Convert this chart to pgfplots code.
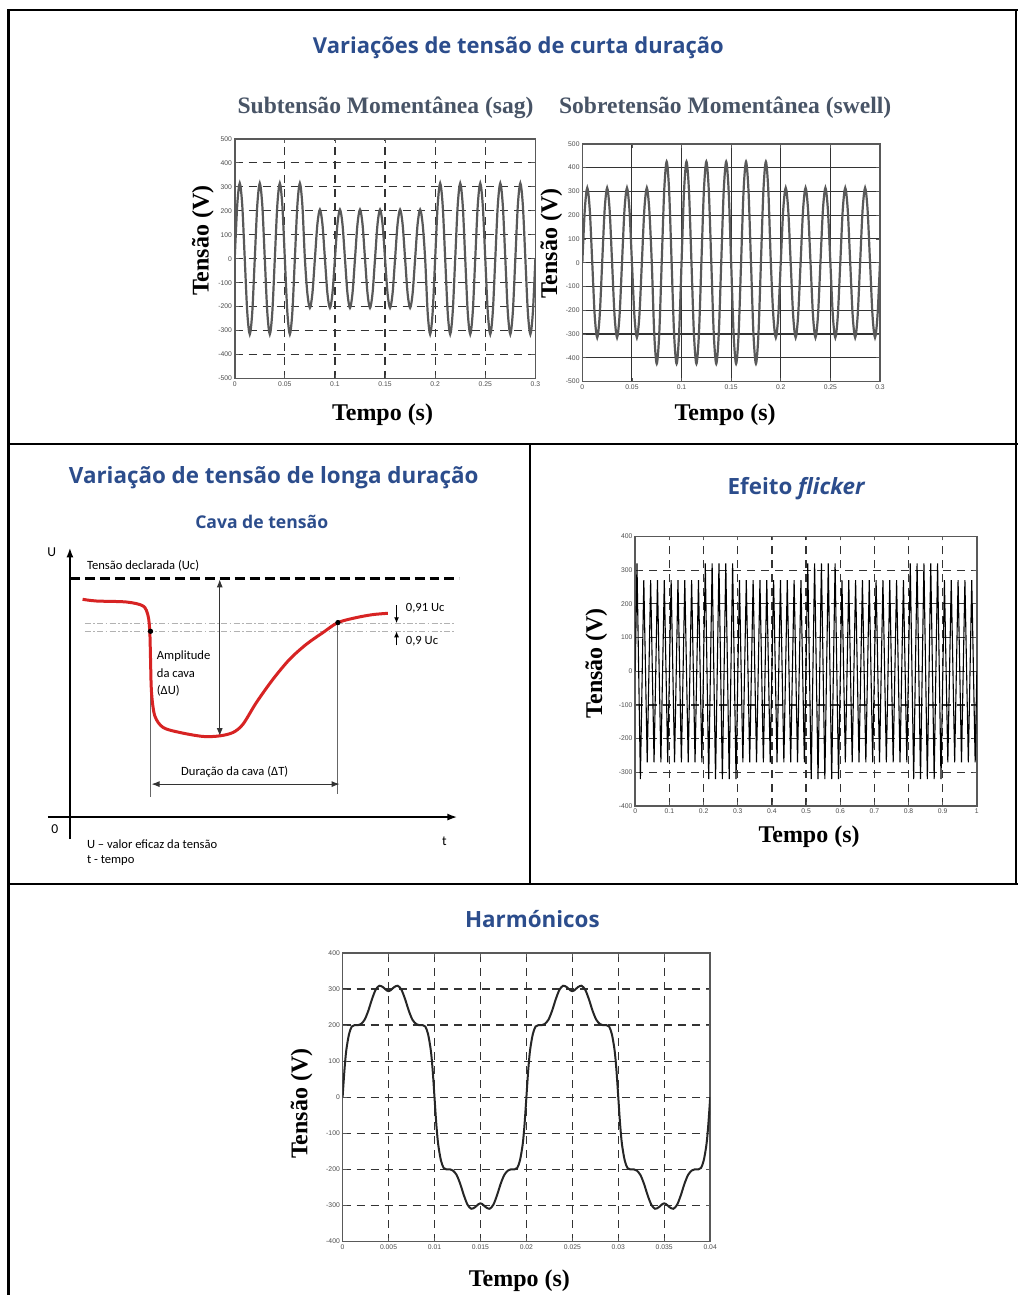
\documentclass[border=0pt]{standalone}
\usepackage{pgfplots}
\pgfplotsset{compat=1.18}
\usepackage{fontspec}
\setmainfont{Liberation Serif}
\setsansfont{Liberation Sans}
\newfontfamily\osans{Open Sans}
\newfontfamily\calib{Carlito}
\usetikzlibrary{arrows.meta}
\definecolor{tblue}{RGB}{44,77,140}
\definecolor{tslate}{RGB}{72,84,102}
\definecolor{cred}{RGB}{215,35,35}

\pgfplotsset{
  wave/.style={
    scale only axis, clip=true,
    axis line style={line width=0.8pt, draw=black!65},
    tick style={black!65, line width=0.4pt}, major tick length=2pt,
    tick label style={font=\sffamily\fontsize{3.4}{4}\selectfont, text=black!70, inner sep=1.2pt},
    xmajorgrids, ymajorgrids,
    scaled x ticks=false, scaled y ticks=false,
    /pgf/number format/assume math mode=true,
    xticklabel style={/pgf/number format/fixed, /pgf/number format/precision=3},
    yticklabel style={/pgf/number format/fixed},
  },
  dgrid/.style={major grid style={black!80, line width=0.6pt, dash pattern=on 4pt off 3pt}},
  sgrid/.style={major grid style={black!80, line width=0.55pt}},
}

\begin{document}
\begin{tikzpicture}
\begin{scope}[x=0.5pt,y=-0.5pt]
\useasboundingbox (0,0) rectangle (1019,1296);
\fill[white] (0,0) rectangle (1019,1296);
\coordinate (sag) at (235,379);
\coordinate (swl) at (583,382);
\coordinate (flk) at (636,807);
\coordinate (har) at (343,1243);
\coordinate (cav) at (40,880);
% titles
\node[font=\osans\bfseries\fontsize{11}{12}\selectfont, text=tblue] at (519,48) {Variações de tensão de curta duração};
\node[font=\rmfamily\bfseries\fontsize{11.8}{13}\selectfont, text=tslate] at (386,108) {Subtensão Momentânea (sag)};
\node[font=\rmfamily\bfseries\fontsize{11.8}{13}\selectfont, text=tslate] at (726,108) {Sobretensão Momentânea (swell)};
\node[font=\rmfamily\bfseries\fontsize{12}{13}\selectfont, rotate=90] at (203,241) {Tensão (V)};
\node[font=\rmfamily\bfseries\fontsize{12}{13}\selectfont, rotate=90] at (552,244) {Tensão (V)};
\node[font=\rmfamily\bfseries\fontsize{12}{13}\selectfont] at (383,415) {Tempo (s)};
\node[font=\rmfamily\bfseries\fontsize{12}{13}\selectfont] at (726,415) {Tempo (s)};
\node[font=\osans\bfseries\fontsize{11.2}{12}\selectfont, text=tblue] at (274,478) {Variação de tensão de longa duração};
\node[font=\osans\bfseries\fontsize{8.8}{10}\selectfont, text=tblue] at (262,523) {Cava de tensão};
\node[font=\osans\bfseries\fontsize{11.2}{12}\selectfont, text=tblue] at (797,489) {Efeito \itshape flicker};
\node[font=\rmfamily\bfseries\fontsize{12}{13}\selectfont, rotate=90] at (597,664) {Tensão (V)};
\node[font=\rmfamily\bfseries\fontsize{12}{13}\selectfont] at (810,838) {Tempo (s)};
\node[font=\osans\bfseries\fontsize{11.2}{12}\selectfont, text=tblue] at (533,920) {Harmónicos};
\node[font=\rmfamily\bfseries\fontsize{12}{13}\selectfont, rotate=90] at (302,1105) {Tensão (V)};
\node[font=\rmfamily\bfseries\fontsize{12}{13}\selectfont] at (520,1282) {Tempo (s)};
\end{scope}

% ---- sag
\begin{axis}[wave, dgrid, at={(sag)}, anchor=south west, width=150.5pt, height=120pt,
  xmin=0, xmax=0.3, ymin=-500, ymax=500,
  xtick={0,0.05,0.1,0.15,0.2,0.25,0.3}, ytick={-500,-400,-300,-200,-100,0,100,200,300,400,500}]
\addplot[black!65, line width=1.1pt, smooth] coordinates {
(0,0)(0.0025,223)(0.005,315)(0.0075,223)(0.01,0)(0.0125,-223)(0.015,-315)(0.0175,-223)
(0.02,0)(0.0225,223)(0.025,315)(0.0275,223)(0.03,0)(0.0325,-223)(0.035,-315)(0.0375,-223)
(0.04,0)(0.0425,223)(0.045,315)(0.0475,223)(0.05,0)(0.0525,-223)(0.055,-315)(0.0575,-223)
(0.06,0)(0.0625,223)(0.065,315)(0.0675,223)(0.07,0)(0.0725,-145)(0.075,-205)(0.0775,-145)
(0.08,0)(0.0825,145)(0.085,205)(0.0875,145)(0.09,0)(0.0925,-145)(0.095,-205)(0.0975,-145)
(0.1,0)(0.1025,145)(0.105,205)(0.1075,145)(0.11,0)(0.1125,-145)(0.115,-205)(0.1175,-145)
(0.12,0)(0.1225,145)(0.125,205)(0.1275,145)(0.13,0)(0.1325,-145)(0.135,-205)(0.1375,-145)
(0.14,0)(0.1425,145)(0.145,205)(0.1475,145)(0.15,0)(0.1525,-145)(0.155,-205)(0.1575,-145)
(0.16,0)(0.1625,145)(0.165,205)(0.1675,145)(0.17,0)(0.1725,-145)(0.175,-205)(0.1775,-145)
(0.18,0)(0.1825,145)(0.185,205)(0.1875,145)(0.19,0)(0.1925,-223)(0.195,-315)(0.1975,-223)
(0.2,0)(0.2025,223)(0.205,315)(0.2075,223)(0.21,0)(0.2125,-223)(0.215,-315)(0.2175,-223)
(0.22,0)(0.2225,223)(0.225,315)(0.2275,223)(0.23,0)(0.2325,-223)(0.235,-315)(0.2375,-223)
(0.24,0)(0.2425,223)(0.245,315)(0.2475,223)(0.25,0)(0.2525,-223)(0.255,-315)(0.2575,-223)
(0.26,0)(0.2625,223)(0.265,315)(0.2675,223)(0.27,0)(0.2725,-223)(0.275,-315)(0.2775,-223)
(0.28,0)(0.2825,223)(0.285,315)(0.2875,223)(0.29,0)(0.2925,-223)(0.295,-315)(0.2975,-223)
(0.3,0)};
\end{axis}

% ---- swell
\begin{axis}[wave, sgrid, at={(swl)}, anchor=south west, width=149pt, height=119pt,
  xmin=0, xmax=0.3, ymin=-500, ymax=500,
  xtick={0,0.05,0.1,0.15,0.2,0.25,0.3}, ytick={-500,-400,-300,-200,-100,0,100,200,300,400,500}]
\addplot[black!65, line width=1.1pt, smooth] coordinates {
(0,0)(0.0025,223)(0.005,315)(0.0075,223)(0.01,0)(0.0125,-223)(0.015,-315)(0.0175,-223)
(0.02,0)(0.0225,223)(0.025,315)(0.0275,223)(0.03,0)(0.0325,-223)(0.035,-315)(0.0375,-223)
(0.04,0)(0.0425,223)(0.045,315)(0.0475,223)(0.05,0)(0.0525,-223)(0.055,-315)(0.0575,-223)
(0.06,0)(0.0625,223)(0.065,315)(0.0675,223)(0.07,0)(0.0725,-301)(0.075,-425)(0.0775,-301)
(0.08,0)(0.0825,301)(0.085,425)(0.0875,301)(0.09,0)(0.0925,-301)(0.095,-425)(0.0975,-301)
(0.1,0)(0.1025,301)(0.105,425)(0.1075,301)(0.11,0)(0.1125,-301)(0.115,-425)(0.1175,-301)
(0.12,0)(0.1225,301)(0.125,425)(0.1275,301)(0.13,0)(0.1325,-301)(0.135,-425)(0.1375,-301)
(0.14,0)(0.1425,301)(0.145,425)(0.1475,301)(0.15,0)(0.1525,-301)(0.155,-425)(0.1575,-301)
(0.16,0)(0.1625,301)(0.165,425)(0.1675,301)(0.17,0)(0.1725,-301)(0.175,-425)(0.1775,-301)
(0.18,0)(0.1825,301)(0.185,425)(0.1875,301)(0.19,0)(0.1925,-223)(0.195,-315)(0.1975,-223)
(0.2,0)(0.2025,223)(0.205,315)(0.2075,223)(0.21,0)(0.2125,-223)(0.215,-315)(0.2175,-223)
(0.22,0)(0.2225,223)(0.225,315)(0.2275,223)(0.23,0)(0.2325,-223)(0.235,-315)(0.2375,-223)
(0.24,0)(0.2425,223)(0.245,315)(0.2475,223)(0.25,0)(0.2525,-223)(0.255,-315)(0.2575,-223)
(0.26,0)(0.2625,223)(0.265,315)(0.2675,223)(0.27,0)(0.2725,-223)(0.275,-315)(0.2775,-223)
(0.28,0)(0.2825,223)(0.285,315)(0.2875,223)(0.29,0)(0.2925,-223)(0.295,-315)(0.2975,-223)
(0.3,0)};
\end{axis}

% ---- flicker
\begin{axis}[wave, dgrid, at={(flk)}, anchor=south west, width=171pt, height=135pt,
  xmin=0, xmax=1, ymin=-400, ymax=400,
  xtick={0,0.1,0.2,0.3,0.4,0.5,0.6,0.7,0.8,0.9,1}, ytick={-400,-300,-200,-100,0,100,200,300,400}]
\addplot[black, line width=0.55pt] coordinates {
(0,0)(0.005,320)(0.015,-320)(0.025,270)(0.035,-270)(0.045,270)(0.055,-270)(0.065,270)(0.075,-270)(0.085,270)(0.095,-270)
(0.105,270)(0.115,-270)(0.125,270)(0.135,-270)(0.145,270)(0.155,-270)(0.165,270)(0.175,-270)(0.185,270)(0.195,-270)
(0.205,320)(0.215,-320)(0.225,320)(0.235,-320)(0.245,320)(0.255,-320)(0.265,320)(0.275,-320)(0.285,320)(0.295,-320)
(0.305,270)(0.315,-270)(0.325,270)(0.335,-270)(0.345,270)(0.355,-270)(0.365,270)(0.375,-270)(0.385,270)(0.395,-270)
(0.405,270)(0.415,-270)(0.425,270)(0.435,-270)(0.445,270)(0.455,-270)(0.465,270)(0.475,-270)(0.485,270)(0.495,-270)
(0.505,320)(0.515,-320)(0.525,320)(0.535,-320)(0.545,320)(0.555,-320)(0.565,320)(0.575,-320)(0.585,320)(0.595,-320)
(0.605,270)(0.615,-270)(0.625,270)(0.635,-270)(0.645,270)(0.655,-270)(0.665,270)(0.675,-270)(0.685,270)(0.695,-270)
(0.705,270)(0.715,-270)(0.725,270)(0.735,-270)(0.745,270)(0.755,-270)(0.765,270)(0.775,-270)(0.785,270)(0.795,-270)
(0.805,320)(0.815,-320)(0.825,320)(0.835,-320)(0.845,320)(0.855,-320)(0.865,320)(0.875,-320)(0.885,320)(0.895,-320)
(0.905,270)(0.915,-270)(0.925,270)(0.935,-270)(0.945,270)(0.955,-270)(0.965,270)(0.975,-270)(0.985,270)(0.995,-270)
(1,0)};
\end{axis}

% ---- harmonics
\begin{axis}[wave, dgrid, at={(har)}, anchor=south west, width=184pt, height=144.5pt,
  xmin=0, xmax=0.04, ymin=-400, ymax=400,
  xtick={0,0.005,0.01,0.015,0.02,0.025,0.03,0.035,0.04}, ytick={-400,-300,-200,-100,0,100,200,300,400}]
\addplot[black!85, line width=1pt, smooth] coordinates {
(0,0)(0.0002,75)(0.0004,130)(0.0007,175)(0.001,196)(0.0013,200)(0.0017,200)(0.002,203)(0.0024,215)(0.0028,240)(0.0032,272)(0.0036,298)(0.004,309)(0.0044,305)(0.0048,296)(0.005,294)(0.0052,296)(0.0056,305)(0.006,309)(0.0064,298)(0.0068,272)(0.0072,240)(0.0076,215)(0.008,203)(0.0083,200)(0.0087,200)(0.009,196)(0.0093,175)(0.0096,130)(0.0098,75)
(0.01,0)(0.0102,-75)(0.0104,-130)(0.0107,-175)(0.011,-196)(0.0113,-200)(0.0117,-200)(0.012,-203)(0.0124,-215)(0.0128,-240)(0.0132,-272)(0.0136,-298)(0.014,-309)(0.0144,-305)(0.0148,-296)(0.015,-294)(0.0152,-296)(0.0156,-305)(0.016,-309)(0.0164,-298)(0.0168,-272)(0.0172,-240)(0.0176,-215)(0.018,-203)(0.0183,-200)(0.0187,-200)(0.019,-196)(0.0193,-175)(0.0196,-130)(0.0198,-75)
(0.02,0)(0.0202,75)(0.0204,130)(0.0207,175)(0.021,196)(0.0213,200)(0.0217,200)(0.022,203)(0.0224,215)(0.0228,240)(0.0232,272)(0.0236,298)(0.024,309)(0.0244,305)(0.0248,296)(0.025,294)(0.0252,296)(0.0256,305)(0.026,309)(0.0264,298)(0.0268,272)(0.0272,240)(0.0276,215)(0.028,203)(0.0283,200)(0.0287,200)(0.029,196)(0.0293,175)(0.0296,130)(0.0298,75)
(0.03,0)(0.0302,-75)(0.0304,-130)(0.0307,-175)(0.031,-196)(0.0313,-200)(0.0317,-200)(0.032,-203)(0.0324,-215)(0.0328,-240)(0.0332,-272)(0.0336,-298)(0.034,-309)(0.0344,-305)(0.0348,-296)(0.035,-294)(0.0352,-296)(0.0356,-305)(0.036,-309)(0.0364,-298)(0.0368,-272)(0.0372,-240)(0.0376,-215)(0.038,-203)(0.0383,-200)(0.0387,-200)(0.039,-196)(0.0393,-175)(0.0396,-130)(0.0398,-75)
(0.04,0)};
\end{axis}

% ---- cava de tensao (schematic, axis in pixel units)
\begin{axis}[at={(cav)}, anchor=south west, scale only axis, width=220pt, height=170pt,
  xmin=40, xmax=480, ymin=540, ymax=880, y dir=reverse, axis lines=none, clip=false]
\draw[gray!60, line width=0.6pt, dash pattern=on 3pt off 1.2pt on 0.8pt off 1.2pt] (85,624) -- (455,624);
\draw[gray!60, line width=0.6pt, dash pattern=on 3pt off 1.2pt on 0.8pt off 1.2pt] (85,632) -- (455,632);
\draw[black!60, line width=0.5pt] (150.7,632) -- (150.7,798);
\draw[black!60, line width=0.5pt] (338.3,623) -- (338.3,795);
\draw[line width=1pt, -{Latex[length=5pt,width=3.5pt]}] (70,840) -- (70,548);
\draw[line width=1pt, -{Latex[length=5pt,width=3.5pt]}] (48,818) -- (458,818);
\draw[line width=1.4pt, dash pattern=on 5pt off 2.5pt] (70,579) -- (460,579);
\draw[black!80, line width=0.5pt, {Latex[length=4pt,width=3pt]}-{Latex[length=4pt,width=3pt]}] (151.7,785) -- (340,785);
\draw[black!80, line width=0.5pt, {Latex[length=4pt,width=3pt]}-{Latex[length=4pt,width=3pt]}] (220,580) -- (220,737);
\draw[line width=0.6pt, -{Latex[length=3pt,width=2.5pt]}] (397,606) -- (397,624);
\draw[line width=0.6pt, -{Latex[length=3pt,width=2.5pt]}] (397,646) -- (397,632);
\addplot[cred, line width=1.5pt, smooth] coordinates {
(82.7,600)(96.7,601.7)(126.7,602.7)(143.3,606.7)(148.3,616.7)(150,633.3)(150.7,660)(151.7,693.3)(155,716.7)(163.3,728.3)(180,733.3)(203.3,737.3)(220,736.7)(233.3,733.3)(243.3,725)(256.7,703.3)(273.3,680)(290,660)(306.7,645)(323.3,633.3)(338.3,623.3)(356.7,618.3)(373.3,615.3)(388.3,614)};
\addplot[only marks, mark=*, mark size=1.1pt, black] coordinates {(150.7,632)(338.3,623.3)};
\node[font=\calib\fontsize{6.8}{8}\selectfont] at (51.7,553) {U};
\node[font=\calib\fontsize{6.8}{8}\selectfont] at (55,830) {0};
\node[font=\calib\fontsize{6.8}{8}\selectfont] at (445,842) {t};
\node[anchor=west, font=\calib\fontsize{6.3}{7}\selectfont, inner sep=0pt] at (86.7,566) {Tensão declarada (Uc)};
\node[anchor=west, font=\calib\fontsize{6.3}{7}\selectfont, inner sep=0pt] at (156.7,657) {Amplitude};
\node[anchor=west, font=\calib\fontsize{6.3}{7}\selectfont, inner sep=0pt] at (156.7,674) {da cava};
\node[anchor=west, font=\calib\fontsize{6.3}{7}\selectfont, inner sep=0pt] at (156.7,692) {(ΔU)};
\node[font=\calib\fontsize{6.3}{7}\selectfont, inner sep=0pt] at (235,773) {Duração da cava (ΔT)};
\node[anchor=west, font=\calib\fontsize{6.3}{7}\selectfont, inner sep=0pt] at (406,609) {0,91 Uc};
\node[anchor=west, font=\calib\fontsize{6.3}{7}\selectfont, inner sep=0pt] at (406,642) {0,9 Uc};
\node[anchor=west, font=\calib\fontsize{6.3}{7}\selectfont, inner sep=0pt] at (86.7,845) {U – valor eficaz da tensão};
\node[anchor=west, font=\calib\fontsize{6.3}{7}\selectfont, inner sep=0pt] at (86.7,862) {t - tempo};
\end{axis}

% frame
\begin{scope}[x=0.5pt,y=-0.5pt]
\draw[line width=1.5pt] (8.5,10) -- (8.5,1296);
\draw[line width=1pt] (7.5,10.5) -- (1019,10.5);
\draw[line width=1pt] (1017.5,10) -- (1017.5,885);
\draw[line width=1.2pt] (7.5,444.5) -- (1019,444.5);
\draw[line width=1.2pt] (7.5,885) -- (1019,885);
\draw[line width=1pt] (531,444.5) -- (531,885);
\end{scope}
\end{tikzpicture}
\end{document}
